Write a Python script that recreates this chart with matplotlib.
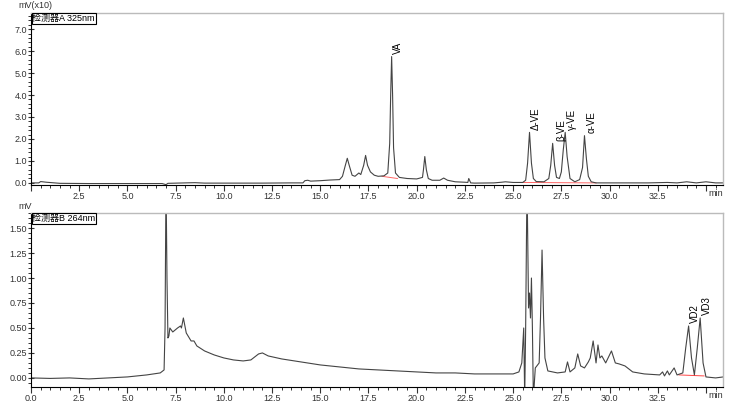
import numpy as np
import matplotlib
matplotlib.use("Agg")
import matplotlib.pyplot as plt
from matplotlib.ticker import MultipleLocator

plt.rcParams['font.family'] = ['Liberation Sans', 'Noto Sans CJK SC', 'DejaVu Sans']

# detector A (325nm), mV x10
t_a = [0.0, 0.4, 0.5, 0.8, 1.5, 3.0, 5.0, 6.8, 7.0, 7.1, 8.0, 8.5, 9.0, 10.0, 12.0,
       13.5, 14.1, 14.2, 14.35, 14.5, 15.0, 15.5, 16.0, 16.15, 16.3, 16.4, 16.5, 16.65,
       16.8, 17.0, 17.1, 17.25, 17.35, 17.45, 17.6, 17.8, 18.0, 18.3, 18.5, 18.6, 18.65,
       18.7, 18.75, 18.8, 18.9, 19.1, 19.5, 20.0, 20.3, 20.35, 20.42, 20.5, 20.6, 20.8,
       21.2, 21.4, 21.6, 22.0, 22.5, 22.65, 22.7, 22.8, 23.0, 24.0, 24.4, 24.6, 25.0,
       25.5, 25.65, 25.75, 25.85, 25.95, 26.05, 26.2, 26.6, 26.85, 26.95, 27.05, 27.15,
       27.25, 27.4, 27.5, 27.6, 27.7, 27.8, 27.95, 28.2, 28.45, 28.6, 28.7, 28.8, 28.9,
       29.05, 29.3, 30.0, 32.0, 33.0, 33.5, 34.0, 34.5, 35.0, 35.5, 35.9]
v_a = [0.0, 0.0, 0.06, 0.03, -0.02, -0.03, -0.03, -0.03, -0.08, -0.02, 0.0, 0.01, -0.01, -0.01, -0.01,
       0.0, 0.0, 0.1, 0.12, 0.08, 0.1, 0.13, 0.15, 0.3, 0.8, 1.12, 0.8, 0.35,
       0.3, 0.45, 0.38, 0.8, 1.25, 0.8, 0.5, 0.35, 0.3, 0.32, 0.45, 1.8, 4.0,
       5.75, 4.0, 1.6, 0.45, 0.25, 0.2, 0.18, 0.25, 0.6, 1.2, 0.6, 0.2, 0.12,
       0.12, 0.22, 0.12, 0.05, 0.03, 0.02, 0.2, 0.0, -0.01, 0.0, 0.03, 0.05, 0.02,
       0.02, 0.12, 0.9, 2.3, 0.9, 0.2, 0.06, 0.05, 0.2, 0.8, 1.8, 0.8,
       0.25, 0.2, 0.5, 1.5, 2.3, 1.2, 0.2, 0.05, 0.15, 0.7, 2.15, 1.1, 0.3,
       0.05, 0.0, 0.0, 0.0, 0.02, 0.0, 0.05, 0.0, 0.05, 0.0, 0.0]

# detector B (264nm), mV
t_b = [0.0, 1.0, 2.0, 3.0, 4.0, 5.0, 6.0, 6.7, 6.9, 6.95, 7.0, 7.05, 7.1, 7.15, 7.2,
       7.35, 7.6, 7.75, 7.8, 7.9, 8.05, 8.3, 8.45, 8.6, 9.0, 9.5, 10.0, 10.5, 11.0, 11.4,
       11.8, 12.0, 12.3, 13.0, 14.0, 15.0, 16.0, 17.0, 18.0, 19.0, 20.0, 21.0, 22.0,
       23.0, 24.0, 25.0, 25.3, 25.45, 25.55, 25.6, 25.65, 25.72, 25.8, 25.85, 25.9,
       25.95, 26.0, 26.05, 26.15, 26.35, 26.42, 26.5, 26.58, 26.65, 26.8, 27.3, 27.7,
       27.82, 27.95, 28.2, 28.35, 28.5, 28.7, 28.9, 29.0, 29.15, 29.3, 29.4, 29.5, 29.6,
       29.8, 30.1, 30.3, 30.5, 30.8, 31.2, 31.8, 32.6, 32.75, 32.85, 33.0, 33.1, 33.35,
       33.5, 33.8, 33.95, 34.1, 34.25, 34.4, 34.55, 34.7, 34.85, 35.0, 35.5, 35.9]
v_b = [0.0, -0.005, 0.0, -0.01, 0.0, 0.01, 0.03, 0.05, 0.08, 0.5, 2.0, 1.0, 0.4, 0.42, 0.5,
       0.46, 0.5, 0.52, 0.5, 0.6, 0.45, 0.37, 0.37, 0.32, 0.27, 0.23, 0.2, 0.18, 0.17, 0.18,
       0.24, 0.25, 0.22, 0.19, 0.16, 0.13, 0.11, 0.09, 0.08, 0.07, 0.06, 0.05, 0.05,
       0.04, 0.04, 0.04, 0.06, 0.15, 0.5, -0.2, 0.5, 2.0, 0.7, 0.85, 0.6,
       1.0, 0.5, -0.2, 0.1, 0.15, 0.6, 1.28, 0.6, 0.2, 0.07, 0.05, 0.06,
       0.16, 0.06, 0.1, 0.24, 0.12, 0.1, 0.16, 0.2, 0.37, 0.15, 0.33, 0.2, 0.22,
       0.15, 0.27, 0.15, 0.14, 0.12, 0.06, 0.04, 0.03, 0.06, 0.02, 0.07, 0.03, 0.1,
       0.03, 0.05, 0.3, 0.52, 0.2, 0.03, 0.3, 0.6, 0.15, 0.01, 0.0, 0.01]

peaks_a = ["VA", "Δ-VE", "β-VE", "γ-VE", "α-VE"]
peaks_a_t = [18.7, 25.85, 27.15, 27.7, 28.75]
peaks_a_v = [5.75, 2.3, 1.8, 2.3, 2.15]
peaks_b = ["VD2", "VD3"]
peaks_b_t = [34.1, 34.7]
peaks_b_v = [0.52, 0.6]

# integration baselines (red)
base_a = [(18.2, 0.3, 19.0, 0.2), (25.5, 0.02, 29.3, 0.0)]
base_b = [(33.6, 0.03, 34.9, 0.02)]

fig = plt.figure(figsize=(7.44, 4.09), dpi=100)
ax1 = fig.add_axes([0.0417, 0.548, 0.9305, 0.42])
ax2 = fig.add_axes([0.0417, 0.054, 0.9305, 0.425])

def style(ax, ylim, ymaj, ymin, fmt, first_label=True):
    ax.set_xlim(0, 35.9)
    ax.set_ylim(*ylim)
    ax.xaxis.set_major_locator(MultipleLocator(2.5))
    ax.xaxis.set_minor_locator(MultipleLocator(0.5))
    ax.yaxis.set_major_locator(MultipleLocator(ymaj))
    ax.yaxis.set_minor_locator(MultipleLocator(ymin))
    ax.yaxis.set_major_formatter(fmt)
    ax.xaxis.set_major_formatter(lambda x, p: "%.1f" % x if (x > 0.01 or first_label) and x < 34 else "")
    ax.tick_params(axis='both', which='major', labelsize=6.5, colors='#333333', length=4, width=0.8)
    ax.tick_params(axis='both', which='minor', length=2.5, width=0.7, colors='#333333')
    ax.tick_params(axis='y', direction='inout', pad=1)
    ax.tick_params(axis='x', pad=1)
    for s in ['top', 'right']:
        ax.spines[s].set_color('#bbbbbb')
        ax.spines[s].set_linewidth(1.0)
    ax.spines['left'].set_linewidth(0.8)
    ax.spines['bottom'].set_linewidth(0.8)
    ax.text(1.0, -0.025, "min", transform=ax.transAxes, ha='right', va='top', fontsize=6.5, color='#333333')

style(ax1, (-0.09, 7.73), 1.0, 0.2, lambda y, p: "%.1f" % y, first_label=False)
style(ax2, (-0.09, 1.65), 0.25, 0.05, lambda y, p: "%.2f" % y)

ax1.plot(t_a, v_a, color='#444444', lw=0.8)
ax2.plot(t_b, v_b, color='#444444', lw=0.8)

for x0, y0, x1, y1 in base_a:
    ax1.plot([x0, x1], [y0, y1], color='#ff6666', lw=0.7, zorder=1)
for x0, y0, x1, y1 in base_b:
    ax2.plot([x0, x1], [y0, y1], color='#ff4444', lw=0.7, zorder=1)

for name, x, y in zip(peaks_a, peaks_a_t, peaks_a_v):
    ax1.annotate(name, (x, y), xytext=(1, 2), textcoords='offset points', rotation=90,
                 ha='left', va='bottom', fontsize=7)
for name, x, y in zip(peaks_b, peaks_b_t, peaks_b_v):
    ax2.annotate(name, (x, y), xytext=(1, 2), textcoords='offset points', rotation=90,
                 ha='left', va='bottom', fontsize=7)

box = dict(boxstyle='square,pad=0.1', fc='white', ec='black', lw=0.8)
ax1.text(0.002, 0.995, "检测器A 325nm", transform=ax1.transAxes, ha='left', va='top',
         fontsize=6.5, bbox=box)
ax2.text(0.002, 0.995, "检测器B 264nm", transform=ax2.transAxes, ha='left', va='top',
         fontsize=6.5, bbox=box)

fig.text(0.025, 0.975, "mV(x10)", fontsize=6.5, color='#333333', ha='left', va='bottom')
fig.text(0.025, 0.484, "mV", fontsize=6.5, color='#333333', ha='left', va='bottom')

fig.savefig("out.png", dpi=100)
